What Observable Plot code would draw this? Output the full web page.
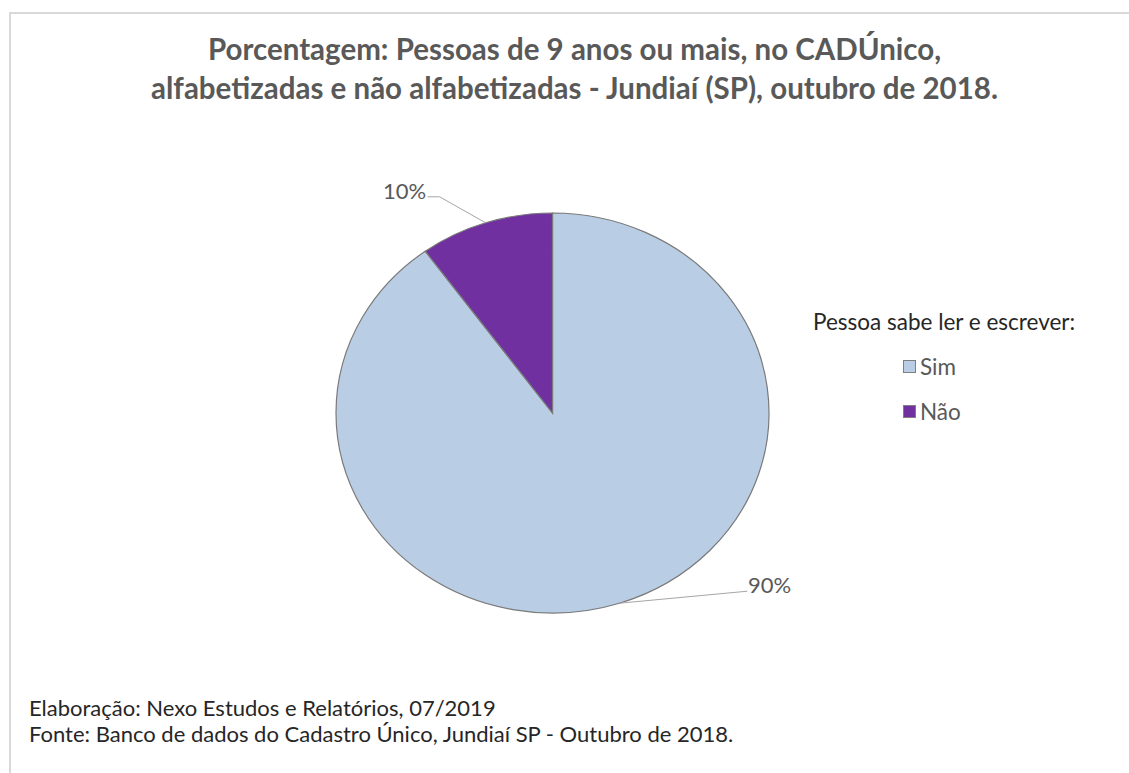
<!DOCTYPE html>
<html>
<head>
<meta charset="utf-8">
<script src="https://cdn.jsdelivr.net/npm/d3@7"></script>
<script src="https://cdn.jsdelivr.net/npm/@observablehq/plot@0.6"></script>
<style>
  body { margin: 0; background: #fff; }
  #page { position: relative; width: 1129px; height: 773px; overflow: hidden; font-family: Lato, "Open Sans", sans-serif; background: #fff; }
  #frame { position: absolute; left: 9px; top: 12px; width: 1300px; height: 900px; border: 2px solid #d9d9d9; box-sizing: border-box; }
  #title { position: absolute; left: 0; width: 1149px; top: 29px; text-align: center; font-weight: bold; font-size: 29.5px; line-height: 39px; color: #595959; white-space: nowrap; }
  #chart { position: absolute; left: 0; top: 150px; }
  #legend-title { position: absolute; left: 813px; top: 307.5px; font-size: 22.5px; line-height: 27px; color: #262626; white-space: nowrap; }
  .lg-item { position: absolute; left: 903px; font-size: 22.5px; line-height: 27px; color: #595959; white-space: nowrap; }
  .lg-sw { position: absolute; left: 0; top: 0; width: 11px; height: 11px; border: 1px solid #7f7f7f; }
  .lg-tx { position: absolute; left: 17px; top: -7.5px; }
  #footer { position: absolute; left: 29px; top: 695px; font-size: 22px; line-height: 26px; color: #262626; white-space: nowrap; }
</style>
</head>
<body>
<div id="page">
  <div id="frame"></div>
  <div id="title"></div>
  <div id="chart"></div>
  <div id="legend-title"></div>
  <div id="legend"></div>
  <div id="footer"></div>
</div>
<script>
// ---- data ----
const categories = ["Sim", "Não"];
const values = [90, 10];
const valueLabels = ["90%", "10%"];
const colors = ["#b9cde5", "#7030a0"];
const titleLines = [
  "Porcentagem: Pessoas de 9 anos ou mais, no CADÚnico,",
  "alfabetizadas e não alfabetizadas - Jundiaí (SP), outubro de 2018."
];
const legendTitle = "Pessoa sabe ler e escrever:";
const footerLines = [
  "Elaboração: Nexo Estudos e Relatórios, 07/2019",
  "Fonte: Banco de dados do Cadastro Único, Jundiaí SP - Outubro de 2018."
];

// ---- build ----
const rows = categories.map((c, i) => ({category: c, value: values[i], label: valueLabels[i]}));
const arcs = d3.pie().sort(null).value(d => d.value).startAngle(0).endAngle(2 * Math.PI)(rows);
const labelRows = arcs.map(a => {
  const mid = (a.startAngle + a.endAngle) / 2;
  return {category: a.data.category, label: a.data.label, ux: Math.sin(mid), uy: Math.cos(mid)};
});
const colorScale = Plot.scale({color: {type: "ordinal", domain: categories, range: colors}});

// layout styling for leader lines (pixel offsets from slice anchor)
const leaderStyle = {
  "Não": [[-46, -26], [-58, -26]],
  "Sim": [[128, -12]]
};

function pieMark(index, scales) {
  const sx = scales.x, sy = scales.y;
  const cx = sx(0), cy = sy(0);
  const rx = sx(1) - cx, ry = cy - sy(1);
  const g = d3.create("svg:g");
  const pg = g.append("g").attr("transform", `translate(${cx},${cy}) scale(1,${ry / rx})`);
  const arcGen = d3.arc().innerRadius(0).outerRadius(rx);
  pg.selectAll("path").data(arcs).join("path")
    .attr("d", arcGen)
    .attr("fill", d => colorScale.apply(d.data.category))
    .attr("stroke", "#7a7a7a")
    .attr("stroke-width", 1.2)
    .attr("vector-effect", "non-scaling-stroke");
  // leader lines
  labelRows.forEach(r => {
    const ax = sx(r.ux), ay = sy(r.uy);
    const pts = [[ax, ay]].concat(leaderStyle[r.category].map(([dx, dy]) => [ax + dx, ay + dy]));
    g.append("path")
      .attr("d", d3.line()(pts))
      .attr("fill", "none")
      .attr("stroke", "#a6a6a6")
      .attr("stroke-width", 1);
  });
  return g.node();
}

const chart = Plot.plot({
  width: 1129,
  height: 500,
  margin: 0,
  style: {background: "transparent", overflow: "visible"},
  x: {type: "linear", domain: [-1, 1], range: [336, 769], axis: null},
  y: {type: "linear", domain: [-1, 1], range: [463, 63], axis: null},
  marks: [
    pieMark,
    Plot.text(labelRows.filter(d => d.category === "Não"), {
      x: "ux", y: "uy", text: "label", textAnchor: "end", dx: -60, dy: -31,
      fontSize: 22, fill: "#595959", fontFamily: "Lato, 'Open Sans', sans-serif"
    }),
    Plot.text(labelRows.filter(d => d.category === "Sim"), {
      x: "ux", y: "uy", text: "label", textAnchor: "start", dx: 128, dy: -18,
      fontSize: 22, fill: "#595959", fontFamily: "Lato, 'Open Sans', sans-serif"
    })
  ]
});
document.getElementById("chart").appendChild(chart);

document.getElementById("title").innerHTML = titleLines.map(t => `<div>${t}</div>`).join("");
document.getElementById("legend-title").textContent = legendTitle;
const legend = document.getElementById("legend");
categories.forEach((c, i) => {
  const item = document.createElement("div");
  item.className = "lg-item";
  item.style.top = (360 + i * 45) + "px";
  item.innerHTML = `<div class="lg-sw" style="background:${colorScale.apply(c)}"></div><div class="lg-tx">${c}</div>`;
  legend.appendChild(item);
});
document.getElementById("footer").innerHTML = footerLines.map(t => `<div>${t}</div>`).join("");
</script>
</body>
</html>
